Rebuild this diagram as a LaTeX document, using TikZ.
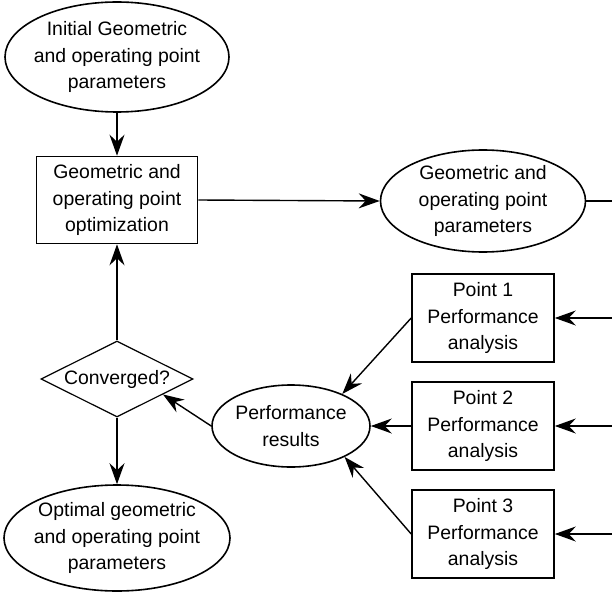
\documentclass[tikz,border=0pt]{standalone}
\usepackage{fontspec}
\setmainfont{Liberation Sans}
\usetikzlibrary{shapes.geometric,arrows.meta,calc}
\begin{document}
\begin{tikzpicture}[x=1bp,y=-1bp,
  every node/.style={font=\fontsize{19.5}{26.5}\selectfont, align=center, inner sep=0pt, line width=1.6bp},
  ell/.style={draw, ellipse, inner xsep=-14bp, inner ysep=-6bp},
  box/.style={draw, rectangle},
  dia/.style={draw, diamond, line width=1.2bp},
  conn/.style={line width=1.4bp},
  arr/.style={conn, -{Stealth[length=21bp,width=15bp,inset=7bp]}}
]
\useasboundingbox (0,0) rectangle (612,593);
\node[ell, minimum width=224bp, minimum height=110bp] (e1) at (117,57) {Initial Geometric\\and operating point\\parameters};
\node[box, minimum width=161bp, minimum height=87bp] (b1) at (117,200) {Geometric and\\operating point\\optimization};
\node[ell, minimum width=205bp, minimum height=102bp] (e2) at (483,201) {Geometric and\\operating point\\parameters};
\node[box, minimum width=142bp, minimum height=88bp] (p1) at (483,318) {Point 1\\Performance\\analysis};
\node[box, minimum width=142bp, minimum height=88bp] (p2) at (483,426) {Point 2\\Performance\\analysis};
\node[box, minimum width=142bp, minimum height=88bp] (p3) at (483,534) {Point 3\\Performance\\analysis};
\node[ell, minimum width=158bp, minimum height=82bp] (pr) at (291,426) {Performance\\results};
\node[dia, minimum width=152bp, minimum height=76bp, shape aspect=2] (d) at (117,379) {Converged?};
\node[ell, minimum width=226bp, minimum height=106bp] (e3) at (117,538) {Optimal geometric\\and operating point\\parameters};
\coordinate (r0) at (612,201);
\coordinate (r1) at (612,318);
\coordinate (r2) at (612,426);
\coordinate (r3) at (612,534);
\coordinate (dse) at ($(d.east)!0.4!(d.south)$);
\draw[arr] (e1) -- (b1);
\draw[arr] (b1.east) -- (e2.west);
\draw[conn] (e2.east) -- (r0);
\draw[arr] (r1) -- (p1.east);
\draw[arr] (r2) -- (p2.east);
\draw[arr] (r3) -- (p3.east);
\draw[arr] (p1.west) -- (pr.32);
\draw[arr] (p2.west) -- (pr.east);
\draw[arr] (p3.west) -- (pr.-30);
\draw[arr] (pr.west) -- (dse);
\draw[arr] (d.north) -- (b1.south);
\draw[arr] (d.south) -- (e3.north);
\end{tikzpicture}
\end{document}
